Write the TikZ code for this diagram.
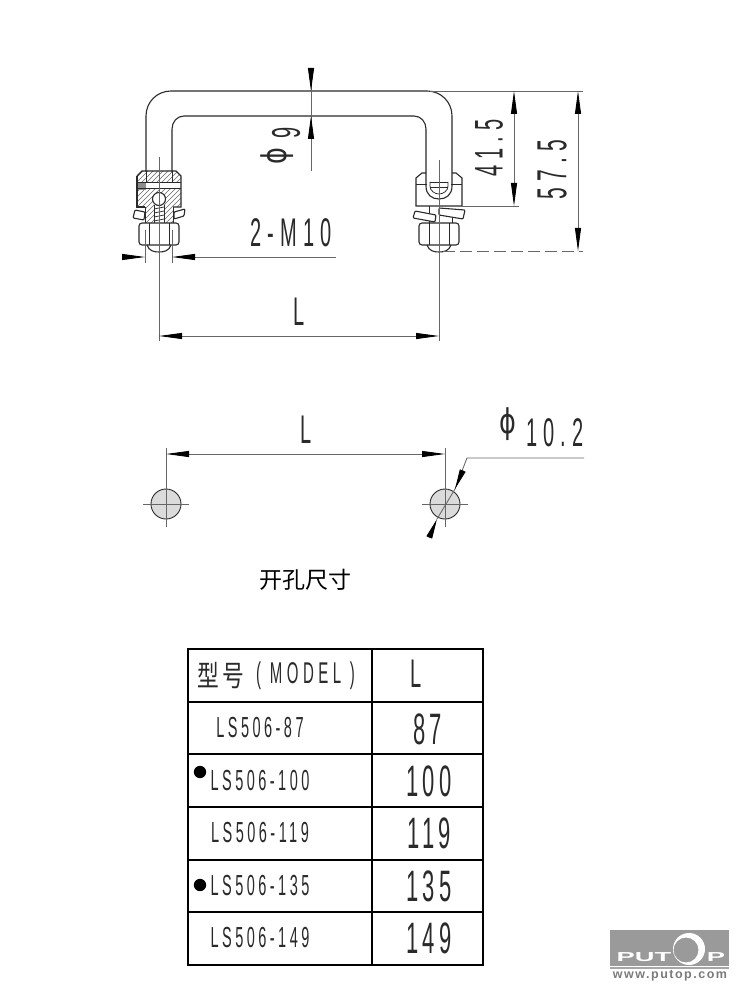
\documentclass[tikz,border=0pt]{standalone}
\usepackage{fontspec}
\usetikzlibrary{arrows.meta}
\setmainfont{Liberation Sans}
\newfontfamily\cad[FakeStretch=0.5,LetterSpace=15]{Liberation Sans}
\newfontfamily\cadn[FakeStretch=0.5,LetterSpace=9]{Liberation Sans}
\newfontfamily\cads[FakeStretch=0.5,LetterSpace=12]{Liberation Sans}
\newfontfamily\logotext[LetterSpace=12]{Liberation Sans}
\newfontfamily\phifont[FakeStretch=0.75]{DejaVu Sans}
\newfontfamily\cjk{Noto Sans CJK SC}
\newcommand{\fs}[1]{\fontsize{#1}{#1}\selectfont}
\definecolor{ink}{HTML}{2A2A2A}
\definecolor{dimc}{HTML}{666666}
\definecolor{logo}{HTML}{9A9A9A}
\tikzset{
  x=1pt,y=-1pt,
  part/.style={draw=ink,line width=1.1pt},
  thin part/.style={draw=ink,line width=.75pt},
  dim/.style={draw=dimc,line width=.85pt},
  darrow/.style={dim,{Triangle[length=23pt,width=6pt,black]}-{Triangle[length=23pt,width=6pt,black]}},
  oneway/.style={dim,-{Triangle[length=23pt,width=6pt,black]}},
  cadtext/.style={inner sep=0pt,text=ink,font=\cad\fs{#1}},
  hatchline/.style={draw=black!60,line width=.6pt},
  cell/.style={inner sep=0pt,text=ink},
  tbl/.style={draw=black,line width=1.1pt},
  hole/.style={draw=ink,line width=.9pt,fill=black!14},
}
\newcommand{\nutdome}{%
  \draw[part,rounded corners=3pt] (-20,223) rectangle (20,245);
  \draw[thin part] (-10,223) -- (-10,245) (10,223) -- (10,245);
  \draw[part] (-12,245) .. controls (-10,251) and (-5,252) .. (0,252) .. controls (5,252) and (10,251) .. (12,245);
}
\begin{document}
\begin{tikzpicture}
\useasboundingbox (0,0) rectangle (750,1000);
\fill[white] (0,0) rectangle (750,1000);

% handle
\draw[part] (146,172) -- (146,116) .. controls (146,102) and (157,91) .. (171,91) -- (427,91) .. controls (441,91) and (452,102) .. (452,116) -- (452,172);
\draw[part] (172,172) -- (172,129) .. controls (172,122) and (177,116) .. (184,116) -- (414,116) .. controls (421,116) and (426,122) .. (426,129) -- (426,172);

% left fixing (section)
\begin{scope}[shift={(159,0)}]
  \begin{scope}
    \clip (-22,176) -- (-17,171) -- (17,171) -- (22,176) -- (22,207) -- (14,207) -- (14,223) -- (-14,223) -- (-14,207) -- (-22,207) -- cycle;
    \foreach \k in {0,5,...,100} {\draw[hatchline] (-30,170+\k) -- (30,110+\k);}
  \end{scope}
  \fill[white] (-22,182) rectangle (22,188);
  \fill[white] (-5,204) rectangle (5,223);
  \fill[white] (0,199) circle (6.5pt);
  \fill[black!45] (-22,182) rectangle (-13,190);
  \draw[part] (-22,176) -- (-17,171) -- (17,171) -- (22,176) -- (22,207) -- (14,207);
  \draw[part] (-22,176) -- (-22,207) -- (-14,207);
  \draw[thin part] (-22,182) -- (22,182) (-22,188) -- (22,188);
  \draw[thin part] (-13,171) -- (-13,182) (13,171) -- (13,182);
  \draw[part] (0,199) circle (6.5pt);
  \draw[thin part] (-14,207) -- (-14,223) (14,207) -- (14,223);
  \draw[thin part] (-5,205) -- (-5,223) (5,205) -- (5,223);
  \foreach \k in {207,211,215,219} {\draw[thin part] (-5,\k+2) -- (5,\k);}
  \draw[part,rounded corners=1pt] (-24,210) -- (-14,212) -- (-15,220) -- (-26,218) -- cycle;
  \draw[part,rounded corners=1pt] (15,212) -- (26,209) -- (25,216) -- (15,219) -- cycle;
  \nutdome
\end{scope}

% right fixing
\begin{scope}[shift={(439,0)}]
  \draw[part] (-13,173) -- (-17,173) -- (-23,178) -- (-23,206) -- (23,206) -- (23,178) -- (17,173) -- (13,173);
  \draw[thin part] (-23,184) -- (-12,184) (12,184) -- (23,184);
  \draw[part] (-13,172) -- (-13,186) .. controls (-13,195) and (-7,199) .. (0,199) .. controls (7,199) and (13,195) .. (13,186) -- (13,172);
  \draw[thin part] (-9,182) -- (9,182) (-9,187) -- (9,187);
  \draw[thin part] (-9,182) -- (-9,186) .. controls (-9,191) and (-4,194) .. (0,194) .. controls (4,194) and (9,191) .. (9,186) -- (9,182);
  \draw[part,rounded corners=1pt] (-24,211) -- (-3,215) -- (-4,222) -- (-26,218) -- cycle;
  \draw[part,rounded corners=1pt] (0,208) -- (26,210) -- (24,219) -- (0,215) -- cycle;
  \draw[thin part] (-10,206) -- (-10,213) (-10,221) -- (-10,223) (13,218) -- (13,223);
  \nutdome
\end{scope}

% named dimension anchors
\coordinate (lc1) at (159,157); \coordinate (lc2) at (159,341);
\coordinate (rc1) at (439,160); \coordinate (rc2) at (439,341);
\coordinate (La) at (159,336); \coordinate (Lb) at (439,336);
\coordinate (l1a) at (145,230); \coordinate (l1b) at (145,263);
\coordinate (l2a) at (172,230); \coordinate (l2b) at (172,263);
\coordinate (m1) at (123,257); \coordinate (m2) at (145,257);
\coordinate (m3) at (172,257); \coordinate (m4) at (336,257);
\coordinate (p1) at (311,68); \coordinate (p2) at (311,91);
\coordinate (p3) at (311,171); \coordinate (p4) at (311,116);
\coordinate (e1) at (430,91); \coordinate (e2) at (583,91);
\coordinate (e3) at (462,206); \coordinate (e4) at (519,206);
\coordinate (e5) at (443,251); \coordinate (e6) at (583,251);
\coordinate (d1t) at (514,91); \coordinate (d1b) at (514,206);
\coordinate (d2t) at (578,91); \coordinate (d2b) at (578,251);

\draw[dim] (lc1) -- (lc2);
\draw[dim] (rc1) -- (rc2);
\draw[darrow] (La) -- (Lb);
\draw[dim] (l1a) -- (l1b);
\draw[dim] (l2a) -- (l2b);
\draw[oneway] (m1) -- (m2);
\draw[oneway] (m4) -- (m3);
\draw[dim] (p1) -- (p3);
\draw[oneway] (p1) -- (p2);
\draw[oneway] (p3) -- (p4);
\draw[dim] (e1) -- (e2);
\draw[dim] (e3) -- (e4);
\draw[dim,dash pattern=on 12pt off 5pt] (e5) -- (e6);
\draw[darrow] (d1t) -- (d1b);
\draw[darrow] (d2t) -- (d2b);

\node[cadtext=40] (tM) at (291,233) {2-M10};
\node[cadtext=40] (tL1) at (299,312) {L};
\node[rotate=90,cadtext=40] (t415) at (489,148) {41.5};
\node[rotate=90,cadtext=42] (t575) at (552,170) {57.5};
\node[rotate=90,inner sep=0pt,text=ink,font=\phifont\fs{34}] (tphi9a) at (277,156) {ϕ};
\node[rotate=90,cadtext=40] (t9) at (286,133) {9};

% hole pattern
\coordinate (hA) at (166,504); \coordinate (hB) at (445,504);
\coordinate (hAt) at (166,448); \coordinate (hBt) at (445,448);
\coordinate (hAb) at (166,527); \coordinate (hBb) at (445,527);
\coordinate (hAl) at (143,504); \coordinate (hAr) at (189,504);
\coordinate (hBl) at (422,504); \coordinate (hBr) at (468,504);
\coordinate (dA) at (166,454); \coordinate (dB) at (445,454);
\coordinate (q1) at (584,458); \coordinate (q2) at (467,458);
\coordinate (q3) at (455,489); \coordinate (q4) at (429,538);
\coordinate (q5) at (437,519);
\coordinate (q6) at (463,470);
\node[hole,circle,minimum size=30pt,inner sep=0pt] (cA) at (hA) {};
\node[hole,circle,minimum size=30pt,inner sep=0pt] (cB) at (hB) {};
\draw[dim] (hAt) -- (hAb);
\draw[dim] (hBt) -- (hBb);
\draw[dim] (hAl) -- (hAr);
\draw[dim] (hBl) -- (hBr);
\draw[darrow] (dA) -- (dB);
\draw[dim] (q1) -- (q2) -- (q3) -- (q5);
\draw[dim,-{Triangle[length=20pt,width=6pt,black]}] (q6) -- (q3);
\draw[dim,-{Triangle[length=20pt,width=6pt,black]}] (q4) -- (q5);
\node[cadtext=40] (tL2) at (306,430) {L};
\node[inner sep=0pt,text=ink,font=\phifont\fs{34}] (tphi) at (508,424) {ϕ};
\node[cadtext=40] (t102) at (555,433) {10.2};
\node[inner sep=0pt,text=black,font=\cjk\fs{23}] (tkk) at (305,580) {开孔尺寸};

% table
\coordinate (ta) at (188,649); \coordinate (tb) at (483,965);
\coordinate (v1) at (372,649); \coordinate (v2) at (372,965);
\draw[tbl] (ta) rectangle (tb);
\draw[tbl] (v1) -- (v2);
\foreach \y in {702,754,807,860,912} {\draw[tbl] (188,\y) -- (483,\y);}
\node[cell,anchor=west,font=\cjk\fs{29}] (t0a) at (197,676) {\scalebox{.75}[1]{型}\hspace{4pt}\scalebox{.75}[1]{号}};
\node[cell,anchor=west] (t0b) at (256,676) {\cad\fs{30}( MODEL )};
\node[cell] (t0c) at (416,674) {\cad\fs{40}L};
\node[cell] (r1a) at (260,728) {\cads\fs{29}LS506-87};
\node[cell] (r1b) at (428,729) {\cadn\fs{44}87};
\node[cell] (r2a) at (260,781) {\cads\fs{29}LS506-100};
\node[cell] (r2b) at (429,781) {\cadn\fs{44}100};
\node[cell] (r3a) at (260,833) {\cads\fs{29}LS506-119};
\node[cell] (r3b) at (429,833) {\cadn\fs{44}119};
\node[cell] (r4a) at (260,886) {\cads\fs{29}LS506-135};
\node[cell] (r4b) at (429,886) {\cadn\fs{44}135};
\node[cell] (r5a) at (260,938) {\cads\fs{29}LS506-149};
\node[cell] (r5b) at (429,938) {\cadn\fs{44}149};
\fill[black] (200,772) circle (6.2pt);
\fill[black] (200,885) circle (6.2pt);

% logo
\fill[logo] (610,930) rectangle (729,966);
\draw[black!35,line width=1.2pt] (610,968) -- (729,968);
\fill[white,even odd rule] (689,949) circle (16pt) (686,950) circle (12.5pt);
\node[inner sep=0pt,text=white,font=\bfseries\fs{13}] (lg1) at (644,957) {\scalebox{2.1}[1]{PUT}};
\node[inner sep=0pt,text=white,font=\bfseries\fs{13}] (lg2) at (716,957) {\scalebox{2.1}[1]{P}};
\node[inner sep=0pt,text=logo!80!black,font=\logotext\bfseries\fs{12.5}] (lg3) at (670,976) {www.putop.com};
\end{tikzpicture}
\end{document}
